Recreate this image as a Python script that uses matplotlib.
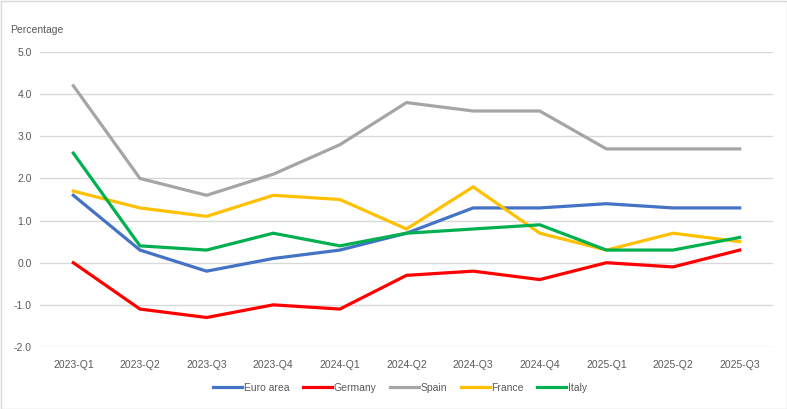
import matplotlib
matplotlib.use("Agg")
import matplotlib.pyplot as plt
from matplotlib.patches import Rectangle

quarters = ["2023-Q1", "2023-Q2", "2023-Q3", "2023-Q4", "2024-Q1", "2024-Q2",
            "2024-Q3", "2024-Q4", "2025-Q1", "2025-Q2", "2025-Q3"]
euro_area = [1.6, 0.3, -0.2, 0.1, 0.3, 0.7, 1.3, 1.3, 1.4, 1.3, 1.3]
germany = [0.0, -1.1, -1.3, -1.0, -1.1, -0.3, -0.2, -0.4, 0.0, -0.1, 0.3]
spain = [4.2, 2.0, 1.6, 2.1, 2.8, 3.8, 3.6, 3.6, 2.7, 2.7, 2.7]
france = [1.7, 1.3, 1.1, 1.6, 1.5, 0.8, 1.8, 0.7, 0.3, 0.7, 0.5]
italy = [2.6, 0.4, 0.3, 0.7, 0.4, 0.7, 0.8, 0.9, 0.3, 0.3, 0.6]
yticks = [-2.0, -1.0, 0.0, 1.0, 2.0, 3.0, 4.0, 5.0]

series = [("Euro area", euro_area, "#4472C4"),
          ("Germany", germany, "#FF0000"),
          ("Spain", spain, "#A5A5A5"),
          ("France", france, "#FFC000"),
          ("Italy", italy, "#00B050")]

plt.rcParams['font.family'] = ['Liberation Sans', 'DejaVu Sans']
txt = "#595959"

fig = plt.figure(figsize=(7.87, 4.09), dpi=100)
ax = fig.add_axes([40/787, 1-347/409, (773-40)/787, (347-52)/409])

x = list(range(len(quarters)))
for name, vals, col in series:
    ax.plot(x, vals, color=col, lw=2.3, label=name, solid_joinstyle='miter')

ax.set_xlim(-0.5, len(quarters) - 0.5)
ax.set_ylim(-2, 5)
ax.set_yticks(yticks)
ax.set_yticklabels([f"{v:.1f}" for v in yticks])
ax.set_xticks(x)
ax.set_xticklabels(quarters)
ax.grid(axis='y', color='#D9D9D9', lw=1)
ax.set_axisbelow(True)
for s in ax.spines.values():
    s.set_visible(False)
ax.tick_params(length=0, labelsize=7.5, colors=txt)
ax.tick_params(axis='y', pad=6)
ax.tick_params(axis='x', pad=9)

fig.text(10/787, 1-30/409, "Percentage", fontsize=7.5, color=txt, va='center', ha='left')

leg = fig.legend(loc='center', bbox_to_anchor=(400/787, 1-388/409), ncol=5,
                 frameon=False, fontsize=7.5, handlelength=2.8, handletextpad=0.15,
                 columnspacing=1.3)
for t in leg.get_texts():
    t.set_color(txt)

fig.patches.append(Rectangle((0.5/787, 0.5/409), 1-1/787, 1-1/409, transform=fig.transFigure,
                             fill=False, edgecolor='#D9D9D9', lw=1))

fig.savefig("out.png", dpi=100)
